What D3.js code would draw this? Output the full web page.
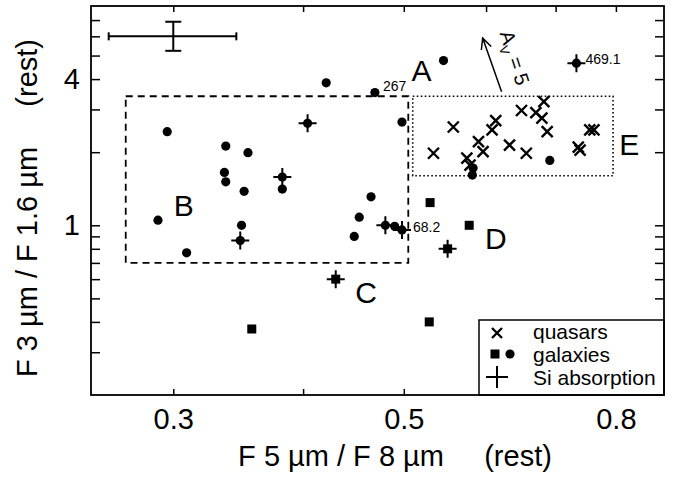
<!DOCTYPE html>
<html>
<head>
<meta charset="utf-8">
<script src="https://cdn.jsdelivr.net/npm/d3@7"></script>
<style>
  body { margin: 0; background: #fff; }
  svg { display: block; font-family: "Liberation Sans", Arial, Helvetica, sans-serif; }
</style>
</head>
<body>
<div id="chart"></div>
<script>
// quasars (x marks)
const quasarX = [0.534, 0.558, 0.575, 0.579, 0.590, 0.596, 0.608, 0.613, 0.632, 0.649, 0.656, 0.670, 0.682, 0.679, 0.687, 0.736, 0.739, 0.755, 0.762];
const quasarY = [1.98, 2.54, 1.89, 1.77, 2.21, 2.01, 2.47, 2.70, 2.14, 2.97, 1.98, 2.91, 3.23, 2.76, 2.43, 2.10, 2.04, 2.47, 2.47];

// galaxies drawn as dots
const dotX = [0.421, 0.469, 0.296, 0.337, 0.354, 0.336, 0.337, 0.351, 0.382, 0.465, 0.546, 0.498, 0.691, 0.583, 0.582, 0.290, 0.309, 0.349, 0.453, 0.448, 0.490];
const dotY = [3.86, 3.52, 2.43, 2.12, 1.99, 1.65, 1.51, 1.38, 1.41, 1.31, 4.77, 2.66, 1.85, 1.72, 1.61, 1.05, 0.77, 1.00, 1.08, 0.90, 0.99];

// galaxies drawn as squares
const squareX = [0.530, 0.578, 0.529, 0.357];
const squareY = [1.24, 1.00, 0.40, 0.374];

// galaxies with Si absorption (dot / square + plus)
const siDotX = [0.404, 0.382, 0.348, 0.480, 0.498, 0.733];
const siDotY = [2.63, 1.58, 0.865, 1.00, 0.957, 4.65];
const siSquareX = [0.430, 0.551];
const siSquareY = [0.60, 0.80];

// numbered objects
const tagNames = ["267", "68.2", "469.1"];
const tagX = [0.469, 0.498, 0.733];
const tagY = [3.52, 0.957, 4.65];

// region letters
const regionNames = ["A", "B", "C", "D", "E"];
const regionX = [0.520, 0.307, 0.460, 0.613, 0.824];
const regionY = [3.91, 1.093, 0.479, 0.799, 1.95];

// region boxes [x0, x1, y0, y1]
const boxB = [0.27, 0.505, 0.70, 3.4];
const boxE = [0.51, 0.795, 1.6, 3.4];

// typical error bar
const errCenter = [0.3, 6.0];
const errX = [0.26, 0.345];
const errY = [5.23, 6.89];

// extinction vector A_V = 5
const arrowFrom = [0.621, 3.55];
const arrowTo = [0.5955, 5.9];

// ticks
const xTicks = [0.3, 0.4, 0.5, 0.6, 0.7, 0.8];
const xLabeled = [0.3, 0.5, 0.8];
const yTicks = [0.3, 0.4, 0.5, 0.6, 0.7, 0.8, 0.9, 1, 2, 3, 4, 5, 6, 7];
const yLabeled = [1, 4];

const width = 673, height = 480;
const margin = { left: 91, right: 9, top: 6, bottom: 85 };

const svg = d3.select("#chart").append("svg")
    .attr("width", width)
    .attr("height", height);

const x = d3.scaleLog().domain([0.25, 0.89]).range([margin.left, width - margin.right]);
const y = d3.scaleLog().domain([0.2, 8]).range([height - margin.bottom, margin.top]);

const fmt = d => String(d);

// axes with inward ticks
const axBottom = svg.append("g")
    .attr("transform", `translate(0,${y.range()[0]})`)
    .call(d3.axisBottom(x).tickValues(xTicks).tickSize(-6).tickPadding(13)
        .tickFormat(d => xLabeled.includes(d) ? fmt(d) : ""));
svg.append("g")
    .attr("transform", `translate(0,${y.range()[1]})`)
    .call(d3.axisTop(x).tickValues(xTicks).tickSize(-6).tickFormat(""));
const axLeft = svg.append("g")
    .attr("transform", `translate(${x.range()[0]},0)`)
    .call(d3.axisLeft(y).tickValues(yTicks).tickSize(-9).tickPadding(11)
        .tickFormat(d => yLabeled.includes(d) ? fmt(d) : ""));
svg.append("g")
    .attr("transform", `translate(${x.range()[1]},0)`)
    .call(d3.axisRight(y).tickValues(yTicks).tickSize(-9).tickFormat(""));

svg.selectAll(".domain").remove();
svg.selectAll(".tick line").attr("stroke", "#000").attr("stroke-width", 1.5);
[axBottom, axLeft].forEach(g => g.selectAll("text")
    .attr("font-family", "Liberation Sans, Arial, sans-serif")
    .attr("font-size", 29)
    .attr("fill", "#000"));

// region boxes
svg.append("rect")
    .attr("x", x(boxB[0])).attr("y", y(boxB[3]))
    .attr("width", x(boxB[1]) - x(boxB[0]))
    .attr("height", y(boxB[2]) - y(boxB[3]))
    .attr("fill", "none").attr("stroke", "#000")
    .attr("stroke-width", 1.8).attr("stroke-dasharray", "7,5");
svg.append("rect")
    .attr("x", x(boxE[0])).attr("y", y(boxE[3]))
    .attr("width", x(boxE[1]) - x(boxE[0]))
    .attr("height", y(boxE[2]) - y(boxE[3]))
    .attr("fill", "none").attr("stroke", "#000")
    .attr("stroke-width", 1.6).attr("stroke-dasharray", "1.6,2.4");

// extinction arrow
const ax0 = x(arrowFrom[0]), ay0 = y(arrowFrom[1]);
const ax1 = x(arrowTo[0]), ay1 = y(arrowTo[1]);
const ang = Math.atan2(ay1 - ay0, ax1 - ax0);
const headLen = 12, headAng = 0.45;
svg.append("path")
    .attr("d", `M${ax0},${ay0}L${ax1},${ay1}` +
        `M${ax1 - headLen * Math.cos(ang - headAng)},${ay1 - headLen * Math.sin(ang - headAng)}L${ax1},${ay1}` +
        `L${ax1 - headLen * Math.cos(ang + headAng)},${ay1 - headLen * Math.sin(ang + headAng)}`)
    .attr("fill", "none").attr("stroke", "#000").attr("stroke-width", 1.5);

const avLabel = svg.append("text")
    .attr("transform", `translate(${(ax0 + ax1) / 2 + 16},${(ay0 + ay1) / 2 - 5}) rotate(72)`)
    .attr("text-anchor", "middle")
    .attr("font-size", 20);
avLabel.append("tspan").text("A");
avLabel.append("tspan").attr("font-size", 13).attr("dy", 5).text("V");
avLabel.append("tspan").attr("dy", -5).text(" = 5");

// error bar
const eg = svg.append("g").attr("stroke", "#000").attr("stroke-width", 2).attr("fill", "none");
eg.append("line").attr("x1", x(errX[0])).attr("x2", x(errX[1]))
    .attr("y1", y(errCenter[1])).attr("y2", y(errCenter[1]));
eg.append("line").attr("x1", x(errCenter[0])).attr("x2", x(errCenter[0]))
    .attr("y1", y(errY[0])).attr("y2", y(errY[1]));
errX.forEach(v => eg.append("line").attr("x1", x(v)).attr("x2", x(v))
    .attr("y1", y(errCenter[1]) - 4).attr("y2", y(errCenter[1]) + 4));
errY.forEach(v => eg.append("line").attr("x1", x(errCenter[0]) - 8).attr("x2", x(errCenter[0]) + 8)
    .attr("y1", y(v)).attr("y2", y(v)));

// symbol helpers
function drawDot(g, cx, cy) {
    g.append("circle").attr("cx", cx).attr("cy", cy).attr("r", 4.6).attr("fill", "#000");
}
function drawSquare(g, cx, cy) {
    g.append("rect").attr("x", cx - 4.5).attr("y", cy - 4.5).attr("width", 9).attr("height", 9).attr("fill", "#000");
}
function drawPlus(g, cx, cy, r) {
    g.append("path").attr("d", `M${cx - r},${cy}H${cx + r}M${cx},${cy - r}V${cy + r}`)
        .attr("stroke", "#000").attr("stroke-width", 2).attr("fill", "none");
}
function drawCross(g, cx, cy, r) {
    g.append("path").attr("d", `M${cx - r},${cy - r}L${cx + r},${cy + r}M${cx - r},${cy + r}L${cx + r},${cy - r}`)
        .attr("stroke", "#000").attr("stroke-width", 2.4).attr("fill", "none");
}

const pts = svg.append("g");
quasarX.forEach((v, i) => drawCross(pts, x(v), y(quasarY[i]), 5.5));
dotX.forEach((v, i) => drawDot(pts, x(v), y(dotY[i])));
squareX.forEach((v, i) => drawSquare(pts, x(v), y(squareY[i])));
siDotX.forEach((v, i) => { drawDot(pts, x(v), y(siDotY[i])); drawPlus(pts, x(v), y(siDotY[i]), 9); });
siSquareX.forEach((v, i) => { drawSquare(pts, x(v), y(siSquareY[i])); drawPlus(pts, x(v), y(siSquareY[i]), 9); });

// object numbers
const tagDx = [8, 11, 9], tagDy = [-1.5, 2, 1];
tagNames.forEach((t, i) => svg.append("text")
    .attr("x", x(tagX[i]) + tagDx[i]).attr("y", y(tagY[i]) + tagDy[i])
    .attr("font-size", 14).text(t));

// region letters
regionNames.forEach((t, i) => svg.append("text")
    .attr("x", x(regionX[i])).attr("y", y(regionY[i]))
    .attr("text-anchor", "middle").attr("font-size", 30).text(t));

// legend
const lg = svg.append("g");
lg.append("rect").attr("x", 479).attr("y", 320).attr("width", 185).attr("height", 75)
    .attr("fill", "#fff").attr("stroke", "#000").attr("stroke-width", 1.5);
drawCross(lg, 497, 333, 5);
drawSquare(lg, 495, 354);
drawDot(lg, 510, 354);
drawPlus(lg, 497, 377, 11);
const legendText = ["quasars", "galaxies", "Si absorption"];
legendText.forEach((t, i) => lg.append("text")
    .attr("x", 533).attr("y", 338.5 + i * 23)
    .attr("font-size", 21).text(t));

// frame
svg.append("rect")
    .attr("x", x.range()[0]).attr("y", y.range()[1])
    .attr("width", x.range()[1] - x.range()[0])
    .attr("height", y.range()[0] - y.range()[1])
    .attr("fill", "none").attr("stroke", "#000").attr("stroke-width", 1.8);

// axis titles
svg.append("text")
    .attr("x", 395).attr("y", 466)
    .attr("text-anchor", "middle").attr("font-size", 29)
    .attr("xml:space", "preserve")
    .text("F 5 \u00b5m / F 8 \u00b5m     (rest)");
svg.append("text")
    .attr("transform", "translate(37,208) rotate(-90)")
    .attr("text-anchor", "middle").attr("font-size", 29)
    .attr("xml:space", "preserve")
    .text("F 3 \u00b5m / F 1.6 \u00b5m     (rest)");
</script>
</body>
</html>
